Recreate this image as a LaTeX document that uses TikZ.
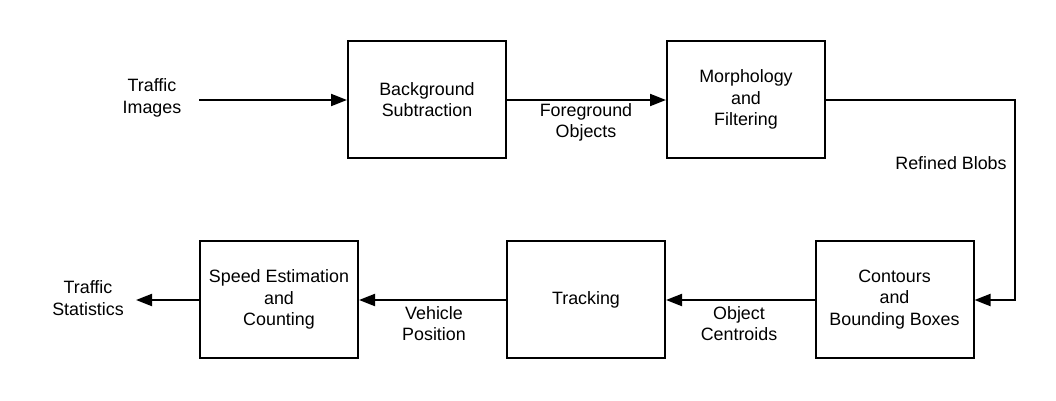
\documentclass[tikz,border=0pt]{standalone}
\usepackage{fontspec}
\setmainfont{Liberation Sans}
\usetikzlibrary{arrows.meta}
\begin{document}
\begin{tikzpicture}[x=0.75pt,y=-0.75pt,
  font=\fontsize{13.4pt}{16.2pt}\selectfont,
  box/.style={draw,line width=1.5pt,minimum width=118.5pt,minimum height=88pt,align=center,inner sep=0pt},
  lbl/.style={align=center,inner sep=0pt},
  conn/.style={line width=1.5pt,-{Triangle[length=12pt,width=9pt]}},
  plain/.style={line width=1.5pt}]
\useasboundingbox (0,0) rectangle (1056,400);
\node[box] (bg) at (427,99.5) {Background\\Subtraction};
\node[box] (mf) at (746,99.5) {Morphology\\and\\Filtering};
\node[box] (cb) at (894.5,299.5) {Contours\\and\\Bounding Boxes};
\node[box] (tr) at (586,299.5) {Tracking};
\node[box] (se) at (279,299.5) {Speed Estimation\\and\\Counting};
\node[lbl] (ti) at (152,98) {Traffic\\Images};
\node[lbl] (ts) at (88,298) {Traffic\\Statistics};
\node[lbl] (fo) at (586,122.5) {Foreground\\Objects};
\node[lbl] (rb) at (951,163) {Refined Blobs};
\node[lbl] (oc) at (739,323.5) {Object\\Centroids};
\node[lbl] (vp) at (434,323.5) {Vehicle\\Position};
\coordinate (in0) at (199,100);
\coordinate (out0) at (136,300);
\coordinate (turn) at (1015,200);
\draw[conn] (in0) -- (bg.west |- in0);
\draw[conn] (bg.east |- in0) -- (mf.west |- in0);
\draw[conn] (mf.east |- in0) -| (turn) |- (cb.east |- out0);
\draw[conn] (cb.west |- out0) -- (tr.east |- out0);
\draw[conn] (tr.west |- out0) -- (se.east |- out0);
\draw[conn] (se.west |- out0) -- (out0);
\end{tikzpicture}
\end{document}
